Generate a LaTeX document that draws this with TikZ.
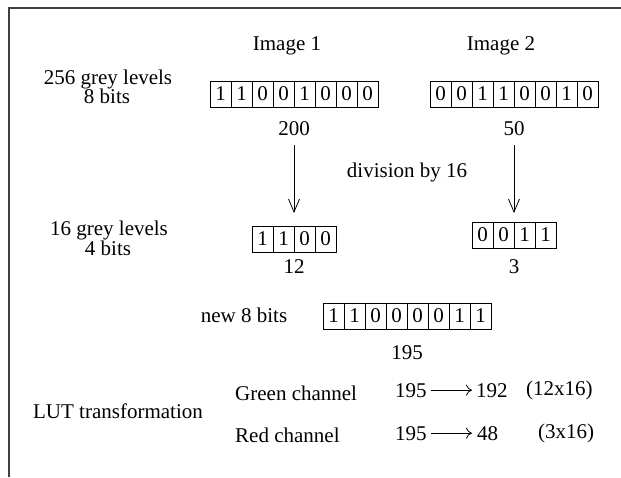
\documentclass[tikz,border=0pt]{standalone}
\usepackage{fontspec}
\setmainfont{Liberation Serif}
\usetikzlibrary{arrows.meta}
\newcommand\bitrow[5]{%
  \foreach \b [count=\i] in {#5}
    \node[cell] (#1-\i) at ({#2+(\i-0.5-#4/2)*21}, #3) {\b};}
\tikzset{
  lbl/.style={inner sep=0pt, anchor=base, font=\fontsize{21}{21}\selectfont},
  lblw/.style={lbl, anchor=base west},
  cell/.style={draw, line width=0.8pt, minimum width=21pt, minimum height=26pt,
    inner sep=0pt, anchor=center, font=\fontsize{21}{21}\selectfont},
  downarr/.style={line width=0.8pt, -{Straight Barb[length=13pt,width=11pt,line width=0.8pt]}},
  lutarr/.style={line width=0.8pt, -{To[length=6pt,width=11pt]}, shorten <=4pt, shorten >=4pt},
  frame/.style={line width=1.5pt, black!75}
}
\begin{document}
\begin{tikzpicture}[x=1pt, y=-1pt]
\useasboundingbox (0,0) rectangle (621,477);
\draw[frame] (9,477) -- (9,8) -- (621,8);

% headings
\node[lbl] (img1) at (287,50) {Image 1};
\node[lbl] (img2) at (501,50) {Image 2};

% 8-bit level
\node[lbl] (g256) at (108,84) {256 grey levels};
\node[lbl] (b8) at (107,103.5) {8 bits};
\bitrow{ba}{294}{94}{8}{1,1,0,0,1,0,0,0}
\bitrow{bb}{514}{94}{8}{0,0,1,1,0,0,1,0}
\node[lbl] (v200) at (294,135) {200};
\node[lbl] (v50) at (514,135) {50};

% division arrows
\coordinate (a1s) at (294,145);
\coordinate (a1e) at (294,213);
\coordinate (a2s) at (514,145);
\coordinate (a2e) at (514,213);
\draw[downarr] (a1s) -- (a1e);
\draw[downarr] (a2s) -- (a2e);
\node[lbl] (div) at (407,177) {division by 16};

% 4-bit level
\node[lbl] (g16) at (109,235.5) {16 grey levels};
\node[lbl] (b4) at (108,255) {4 bits};
\bitrow{bc}{294}{239}{4}{1,1,0,0}
\bitrow{bd}{514}{235}{4}{0,0,1,1}
\node[lbl] (v12) at (294,273) {12};
\node[lbl] (v3) at (514,273) {3};

% new 8 bits
\node[lbl] (new8) at (244,322) {new 8 bits};
\bitrow{be}{407}{316}{8}{1,1,0,0,0,0,1,1}
\node[lbl] (v195) at (407,359) {195};

% LUT
\node[lbl] (lut) at (118,418) {LUT transformation};
\node[lblw] (green) at (235,400) {Green channel};
\node[lblw] (red) at (235,442) {Red channel};
\node[lblw] (ga) at (395,397) {195};
\node[lblw] (gb) at (476,397) {192};
\node[lblw] (gc) at (526,395) {(12x16)};
\node[lblw] (ra) at (395,440) {195};
\node[lblw] (rb) at (477,440) {48};
\node[lblw] (rc) at (538,438) {(3x16)};
\draw[lutarr] (ga.east) -- (gb.west);
\draw[lutarr] (ra.east) -- (ra.east -| gb.west);
\end{tikzpicture}
\end{document}
